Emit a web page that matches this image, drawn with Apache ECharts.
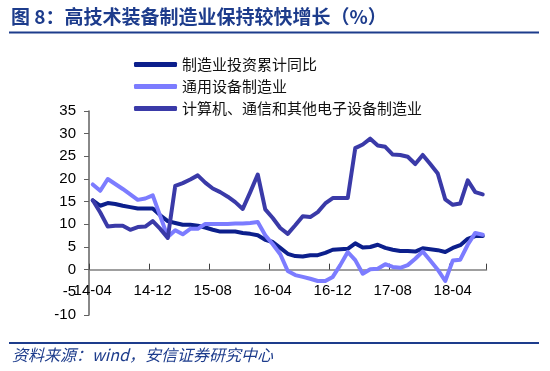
<!DOCTYPE html>
<html>
<head>
<meta charset="utf-8">
<script src="https://cdn.jsdelivr.net/npm/echarts@6/dist/echarts.min.js"></script>
<style>
html,body{margin:0;padding:0;background:#fff;}
#c{width:550px;height:371px;}
</style>
</head>
<body>
<div id="c"></div>
<script>
const categories = ['14-04','14-05','14-06','14-07','14-08','14-09','14-10','14-11','14-12',
'15-01','15-02','15-03','15-04','15-05','15-06','15-07','15-08','15-09','15-10','15-11','15-12',
'16-01','16-02','16-03','16-04','16-05','16-06','16-07','16-08','16-09','16-10','16-11','16-12',
'17-01','17-02','17-03','17-04','17-05','17-06','17-07','17-08','17-09','17-10','17-11','17-12',
'18-01','18-02','18-03','18-04','18-05','18-06','18-07','18-08'];

const seriesNames = ['制造业投资累计同比','通用设备制造业','计算机、通信和其他电子设备制造业'];

const manufacturing = [15.3,14.1,14.7,14.5,14.1,13.8,13.5,13.5,13.5,12.0,10.7,10.3,9.9,9.9,9.7,9.3,8.8,8.4,8.4,8.4,8.1,7.9,7.6,6.6,6.1,4.8,3.5,3.0,2.9,3.2,3.2,3.7,4.4,4.5,4.6,5.8,4.9,5.0,5.5,4.8,4.4,4.1,4.1,4.0,4.7,4.5,4.3,3.9,4.8,5.4,6.8,7.4,7.4];

const generalEquip = [18.8,17.4,20.0,18.9,17.8,16.6,15.4,15.7,16.4,11.8,7.2,8.7,7.8,9.0,9.0,10.1,10.1,10.1,10.1,10.2,10.2,10.3,10.5,7.6,5.6,3.4,-0.3,-1.2,-1.6,-2.0,-2.5,-2.5,-1.6,1.0,3.9,2.1,-0.9,0.1,0.2,1.2,0.6,0.4,1.0,2.4,4.0,2.0,0.0,-2.5,2.0,2.2,5.5,8.1,7.7];

const electronics = [15.3,12.6,9.5,9.7,9.7,8.8,9.4,9.5,10.7,9.0,7.0,18.5,19.1,19.9,20.8,19.2,17.9,17.1,16.1,14.9,13.4,17.1,21.0,13.3,11.4,9.2,7.9,9.8,11.8,11.6,12.7,14.6,15.8,15.8,15.8,26.8,27.6,28.9,27.4,27.1,25.4,25.3,24.9,23.3,25.3,23.3,21.2,15.5,14.3,14.6,19.7,17.1,16.6];

const yTicks = {min:-10, max:35, step:5};

const titleText = '图 8：高技术装备制造业保持较快增长（%）';
const sourceText = '资料来源：wind，安信证券研究中心';

const colors = ['#0c1f8c','#7c7cff','#3a3aa8'];
const FONT = '"Liberation Sans", Arial, "Noto Sans CJK SC", sans-serif';
const CJK = '"Noto Sans CJK SC", "Liberation Sans", sans-serif';

const chart = echarts.init(document.getElementById('c'), null, {renderer:'canvas'});
const dataSets = [manufacturing, generalEquip, electronics];

chart.setOption({
  animation:false,
  backgroundColor:'#ffffff',
  color: colors,
  grid:{left:89, right:63.5, top:111, bottom:56, containLabel:false},
  legend:{
    orient:'vertical', left:134, top:57, padding:0,
    itemWidth:43, itemHeight:5, itemGap:7,
    icon:'roundRect',
    data: seriesNames,
    textStyle:{fontFamily:CJK, fontSize:15, color:'#111', lineHeight:15}
  },
  xAxis:{
    type:'category', data:categories, boundaryGap:true,
    axisLine:{onZero:true, lineStyle:{color:'#808080', width:1.5}},
    axisTick:{show:true, inside:true, length:6, interval:7, alignWithLabel:false, lineStyle:{color:'#404040', width:1}},
    axisLabel:{interval:7, margin:-32, fontFamily:FONT, fontSize:15, color:'#000'},
    splitLine:{show:false}
  },
  yAxis:{
    type:'value', min:yTicks.min, max:yTicks.max, interval:yTicks.step,
    axisLine:{show:true, lineStyle:{color:'#606060', width:1.5}},
    axisTick:{show:true, inside:false, length:5, lineStyle:{color:'#606060'}},
    axisLabel:{margin:13, fontFamily:FONT, fontSize:15, color:'#000'},
    splitLine:{show:false}
  },
  series: seriesNames.map((n,i)=>({
    name:n, type:'line', data:dataSets[i], symbol:'none', smooth:false,
    lineStyle:{width:4, color:colors[i], cap:'round', join:'round'},
    itemStyle:{color:colors[i]}, z:2+i
  })),
  graphic:[
    {type:'text', left:11, top:7, style:{text:titleText, font:'bold 19px "Noto Sans CJK SC", sans-serif', fill:'#1d3c8c'}},
    {type:'rect', shape:{x:9, y:31.5, width:530, height:2}, style:{fill:'#1d3c8c'}},
    {type:'rect', shape:{x:9, y:342, width:530, height:2}, style:{fill:'#1d3c8c'}},
    {type:'text', left:12, top:347, style:{text:sourceText, font:'italic 16px "Noto Sans CJK SC", sans-serif', fill:'#1d3c8c'}}
  ]
});
</script>
</body>
</html>
